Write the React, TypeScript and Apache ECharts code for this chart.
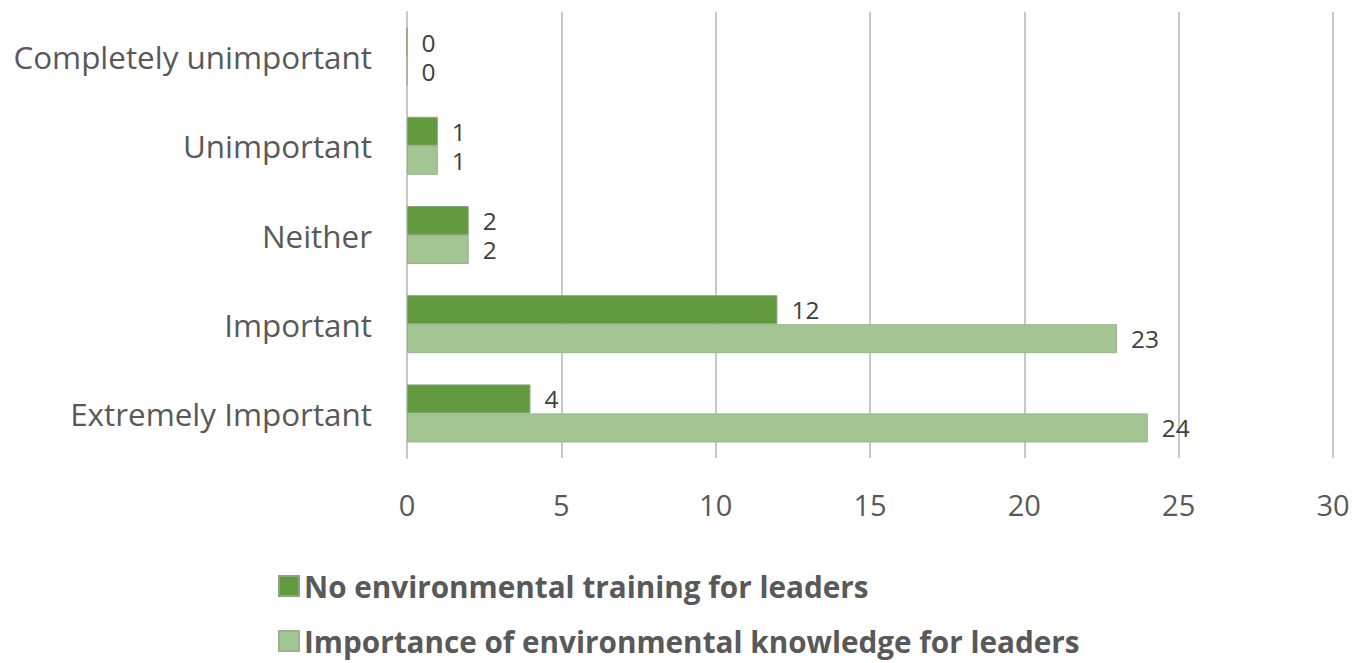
import React, { useEffect, useRef } from "react";
import * as echarts from "echarts";

const categories = [
  "Completely unimportant",
  "Unimportant",
  "Neither",
  "Important",
  "Extremely Important",
];
const noTraining = [0, 1, 2, 12, 4];
const importance = [0, 1, 2, 23, 24];
const seriesNames = [
  "No environmental training for leaders",
  "Importance of environmental knowledge for leaders",
];
const xTicks = { min: 0, max: 30, interval: 5 };

const FONT = "'Open Sans', 'Noto Sans', sans-serif";

export default function App() {
  const ref = useRef<HTMLDivElement>(null);
  useEffect(() => {
    document.body.style.margin = "0";
    if (!ref.current) return;
    const chart = echarts.init(ref.current, undefined, { renderer: "svg" });
    const label = {
      show: true,
      position: "right",
      distance: 14,
      color: "#404040",
      fontSize: 24.5,
      lineHeight: 20,
      fontFamily: FONT,
    };
    const legendText = {
      color: "#595959",
      fontSize: 29.7,
      lineHeight: 30,
      fontWeight: "bold",
      fontFamily: FONT,
    };
    chart.setOption({
      animation: false,
      textStyle: { fontFamily: FONT },
      grid: { left: 407, right: 21, top: 12, bottom: 205, containLabel: false },
      xAxis: {
        type: "value",
        min: xTicks.min,
        max: xTicks.max,
        interval: xTicks.interval,
        axisLine: { show: false },
        axisTick: { show: false },
        splitLine: { show: true, lineStyle: { color: "#c8c8c8", width: 2 } },
        axisLabel: { color: "#595959", fontSize: 29, fontFamily: FONT, margin: 32 },
      },
      yAxis: {
        type: "category",
        inverse: true,
        data: categories,
        axisLine: { show: true, lineStyle: { color: "#c8c8c8", width: 2 } },
        axisTick: { show: false },
        axisLabel: { color: "#595959", fontSize: 31.4, fontFamily: FONT, margin: 35 },
      },
      legend: [
        {
          left: 278,
          top: 571,
          padding: 0,
          itemWidth: 20,
          itemHeight: 20,
          icon: "rect",
          textStyle: legendText,
          data: [seriesNames[0]],
        },
        {
          left: 278,
          top: 626,
          padding: 0,
          itemWidth: 20,
          itemHeight: 20,
          icon: "rect",
          textStyle: legendText,
          data: [seriesNames[1]],
        },
      ],
      series: [
        {
          name: seriesNames[0],
          type: "bar",
          data: noTraining,
          barWidth: 29,
          barGap: "0%",
          barCategoryGap: "35%",
          itemStyle: { color: "#629B3F", borderColor: "#8aa57a", borderWidth: 1 },
          label,
        },
        {
          name: seriesNames[1],
          type: "bar",
          data: importance,
          barWidth: 29,
          barGap: "0%",
          itemStyle: { color: "#A2C591", borderColor: "#9ab38d", borderWidth: 1 },
          label,
        },
      ],
    });
    return () => chart.dispose();
  }, []);
  return <div ref={ref} style={{ width: 1354, height: 663 }} />;
}
